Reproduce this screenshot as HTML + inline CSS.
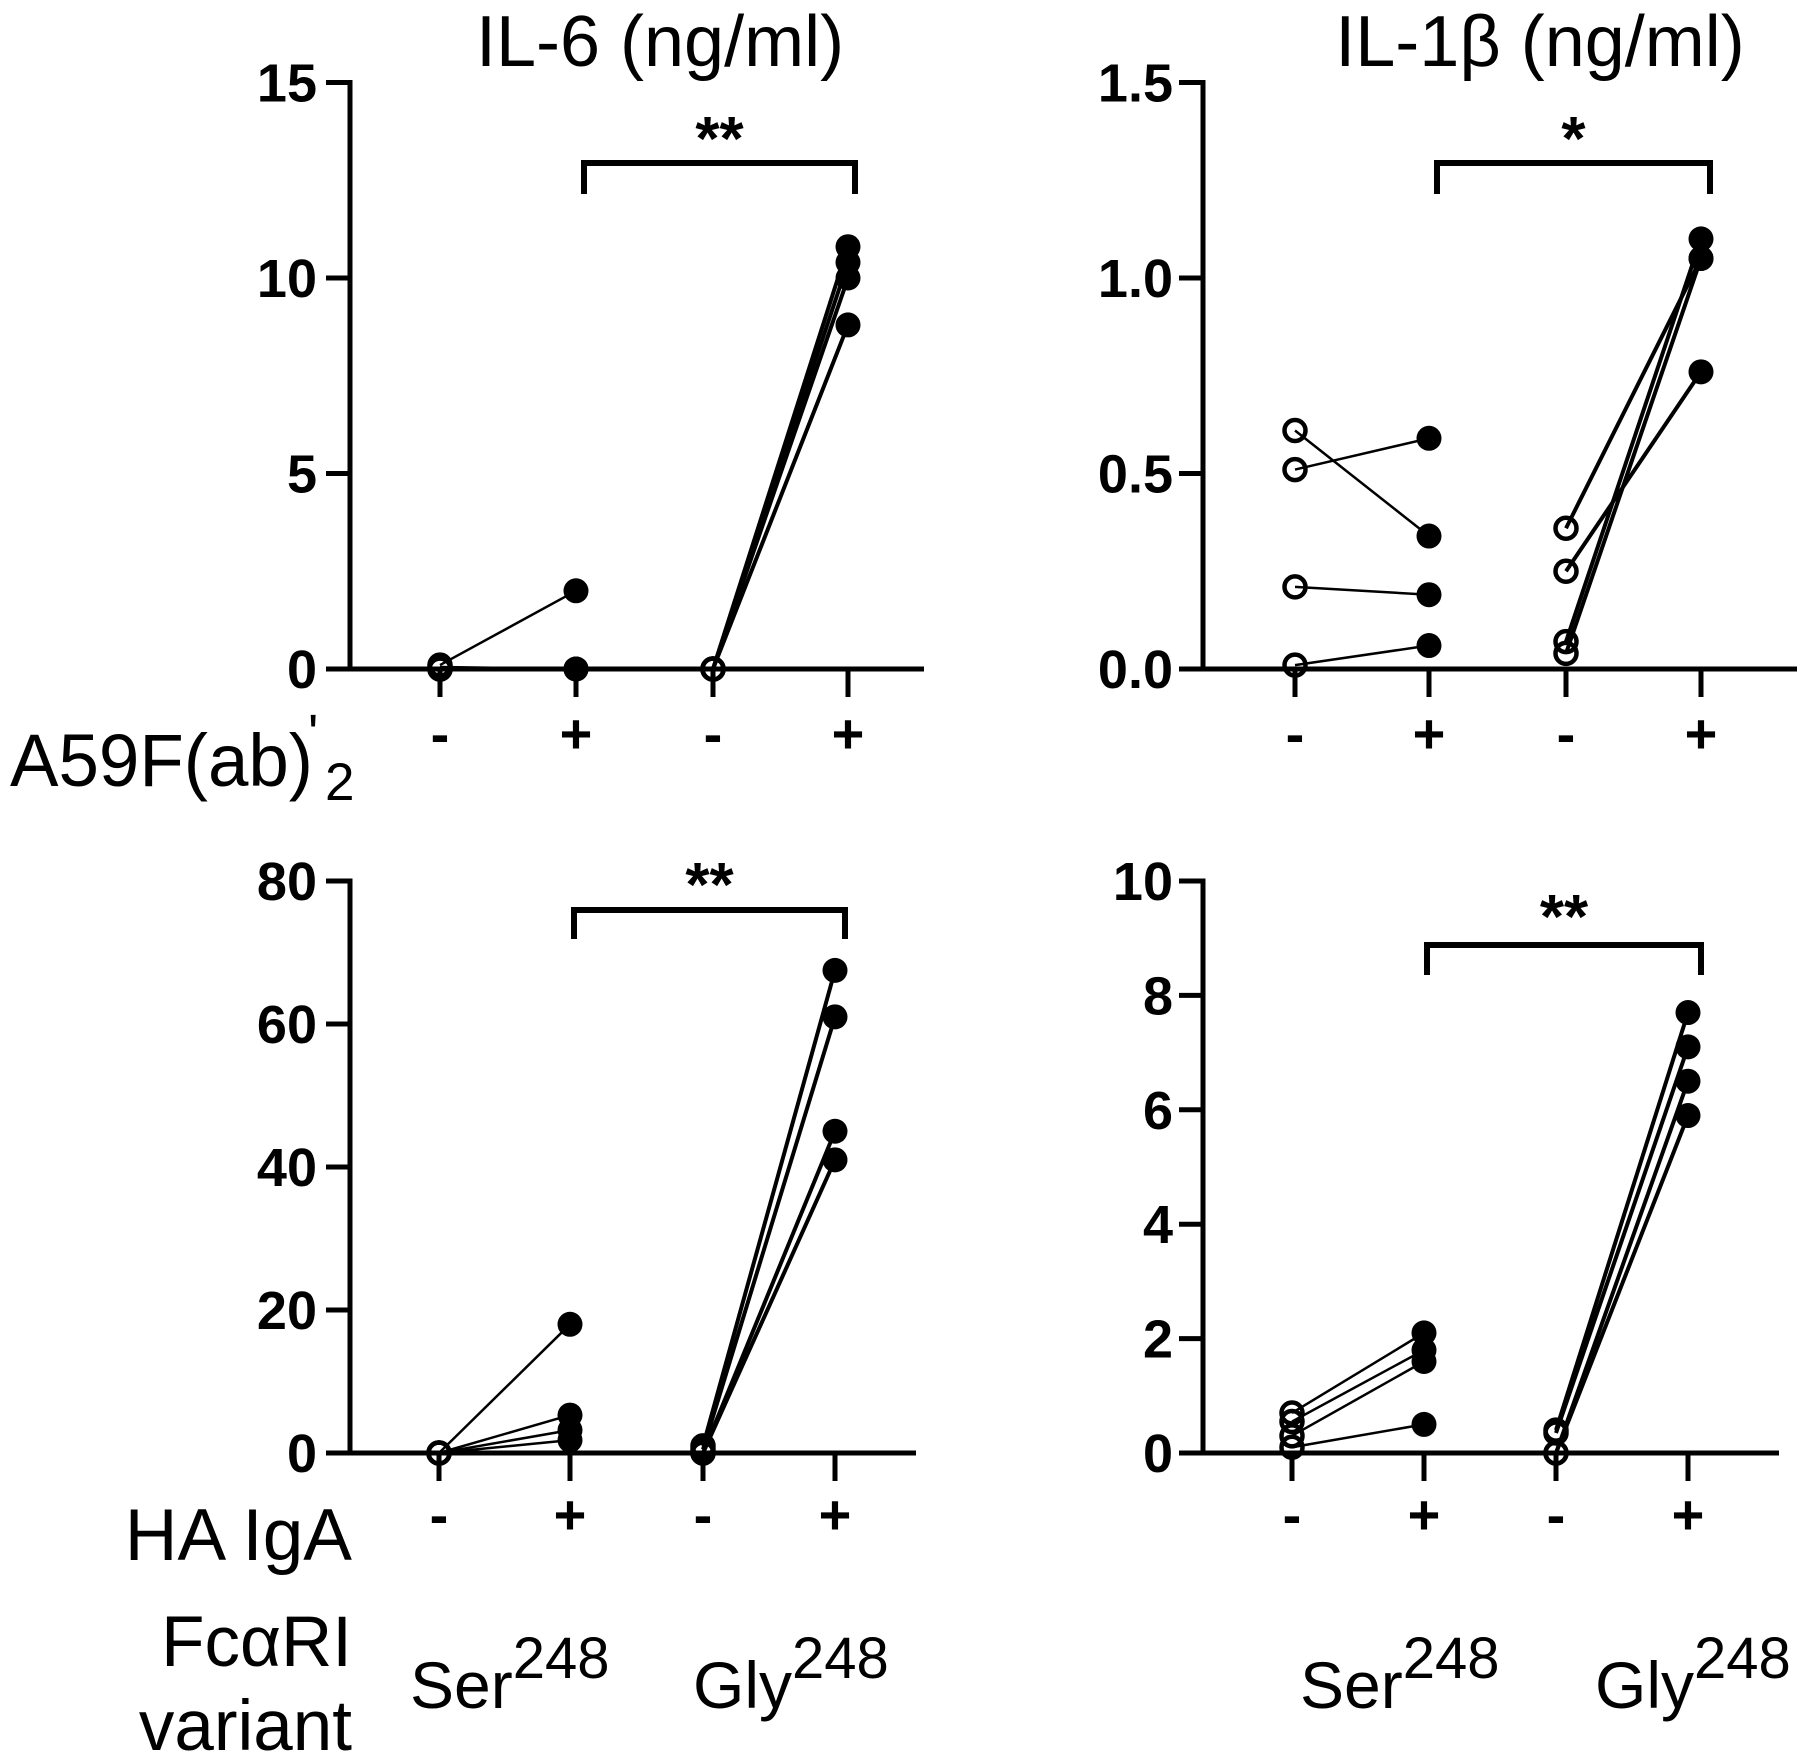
<!DOCTYPE html>
<html><head><meta charset="utf-8"><style>
html,body{margin:0;padding:0;background:#fff;}
svg{display:block;}
text{font-family:"Liberation Sans",Arial,sans-serif;fill:#000;}
</style></head><body>
<svg id="fig" width="1810" height="1762" viewBox="0 0 1810 1762" xmlns="http://www.w3.org/2000/svg">
<text x="660" y="66" font-size="72" text-anchor="middle">IL-6 (ng/ml)</text>
<text x="1540" y="66" font-size="72" text-anchor="middle">IL-1β (ng/ml)</text>
<text x="10" y="786" font-size="74" textLength="303" lengthAdjust="spacingAndGlyphs">A59F(ab)</text>
<text x="308" y="752" font-size="54">'</text>
<text x="325" y="800" font-size="53">2</text>
<text x="352" y="1560" font-size="73" text-anchor="end">HA IgA</text>
<text x="352" y="1666" font-size="71" text-anchor="end">FcαRI</text>
<text x="352" y="1750" font-size="71" text-anchor="end">variant</text>
<g>
<text x="410" y="1708" font-size="66">Ser<tspan font-size="58" dy="-30">248</tspan></text>
<text x="693" y="1708" font-size="66">Gly<tspan font-size="58" dy="-30">248</tspan></text>
</g>
<g>
<text x="1300" y="1708" font-size="66">Ser<tspan font-size="58" dy="-30">248</tspan></text>
<text x="1595" y="1708" font-size="66">Gly<tspan font-size="58" dy="-30">248</tspan></text>
</g>
</svg>
<script>
// ---- data ----
// IL-6 A59F(ab')2 (top-left)
const tlSerNeg = [0.1, 0.05, 0, 0];
const tlSerPos = [2.0, 0, 0, 0];
const tlGlyNeg = [0, 0, 0, 0];
const tlGlyPos = [10.8, 10.4, 10.0, 8.8];
const tlTicks = ["0","5","10","15"];
const tlTickVals = [0,5,10,15];
// IL-1b A59F(ab')2 (top-right)
const trSerNeg = [0.61, 0.51, 0.21, 0.01];
const trSerPos = [0.34, 0.59, 0.19, 0.06];
const trGlyNeg = [0.36, 0.25, 0.07, 0.04];
const trGlyPos = [1.05, 0.76, 1.10, 1.05];
const trTicks = ["0.0","0.5","1.0","1.5"];
const trTickVals = [0,0.5,1.0,1.5];
// IL-6 HA IgA (bottom-left)
const blSerNeg = [0, 0, 0, 0];
const blSerPos = [18, 5.3, 3.2, 1.8];
const blGlyNeg = [1.0, 0.5, 0, 0];
const blGlyPos = [67.5, 61, 45, 41];
const blTicks = ["0","20","40","60","80"];
const blTickVals = [0,20,40,60,80];
// IL-1b HA IgA (bottom-right)
const brSerNeg = [0.7, 0.55, 0.3, 0.1];
const brSerPos = [2.1, 1.8, 1.6, 0.5];
const brGlyNeg = [0.4, 0.35, 0, 0];
const brGlyPos = [7.7, 7.1, 6.5, 5.9];
const brTicks = ["0","2","4","6","8","10"];
const brTickVals = [0,2,4,6,8,10];
const stimLabels = ["-","+","-","+"];
const sigLabels = ["**","*","**","**"];

const NS = "http://www.w3.org/2000/svg";
const svg = document.getElementById("fig");
function mk(tag, attrs, parent){
  const e = document.createElementNS(NS, tag);
  for (const k in attrs) e.setAttribute(k, attrs[k]);
  parent.appendChild(e);
  return e;
}

function panel(cfg){
  const g = mk("g", {}, svg);
  
  
  const yMax = cfg.tickVals[cfg.tickVals.length-1];
  const yScale = v => cfg.y0 + (cfg.yTop - cfg.y0) * v / yMax;
  const xScale = i => cfg.xs[i];
  const ya = mk("line", {x1:cfg.ax, y1:cfg.yTop-2.5, x2:cfg.ax, y2:cfg.y0, stroke:"#000","stroke-width":5}, g);
  
  
  const xa = mk("line", {x1:cfg.ax-24, y1:cfg.y0, x2:cfg.xEnd, y2:cfg.y0, stroke:"#000","stroke-width":5}, g);
  
  
  cfg.tickVals.forEach((v, i) => {
    const y = yScale(v);
    const t = mk("line", {x1:cfg.ax-24, y1:y, x2:cfg.ax, y2:y, stroke:"#000","stroke-width":5}, g);
    
    
    const l = mk("text", {x:cfg.labelRight, y:y+19, "font-size":54, "font-weight":"bold", "text-anchor":"end"}, g);
    l.textContent = cfg.ticks[i];
    
    
  });
  for (let i = 0; i < 4; i++){
    const x = xScale(i);
    const t = mk("line", {x1:x, y1:cfg.y0, x2:x, y2:cfg.y0+28, stroke:"#000","stroke-width":5}, g);
    
    
    const l = mk("text", {x:x, y:cfg.pmY+18, "font-size":56, "font-weight":"bold", "text-anchor":"middle"}, g);
    l.textContent = stimLabels[i];
    
    
  }
  const pairs = [[cfg.serNeg, cfg.serPos, 0, 1, 2.5], [cfg.glyNeg, cfg.glyPos, 2, 3, 4]];
  pairs.forEach(([a, b, ia, ib, w]) => {
    for (let k = 0; k < a.length; k++){
      const ln = mk("line", {x1:xScale(ia), y1:yScale(a[k]), x2:xScale(ib), y2:yScale(b[k]), stroke:"#000","stroke-width":w}, g);
      
      
    }
  });
  [[cfg.serNeg,0,false],[cfg.serPos,1,true],[cfg.glyNeg,2,false],[cfg.glyPos,3,true]].forEach(([arr, i, filled]) => {
    arr.forEach(v => {
      const c = filled
        ? mk("circle", {cx:xScale(i), cy:yScale(v), r:12.5, fill:"#000"}, g)
        : mk("circle", {cx:xScale(i), cy:yScale(v), r:10.5, fill:"none", stroke:"#000", "stroke-width":4.5}, g);
      
      
    });
  });
  const bx1 = cfg.br[0], bx2 = cfg.br[1], by = cfg.br[2], bl = cfg.br[3];
  const p = mk("path", {d:`M${bx1},${bl} V${by} H${bx2} V${bl}`, fill:"none", stroke:"#000","stroke-width":6}, g);
  
  
  const s = mk("text", {x:(bx1+bx2)/2, y:cfg.starY, "font-size":62, "font-weight":"bold", "text-anchor":"middle"}, g);
  s.textContent = cfg.sig;
  
  
}

panel({name:"il6-a59-panel", ax:350, y0:669, yTop:82.5, xEnd:924, xs:[440,576,713,848], labelRight:317,
  ticks:tlTicks, tickVals:tlTickVals, serNeg:tlSerNeg, serPos:tlSerPos, glyNeg:tlGlyNeg, glyPos:tlGlyPos,
  pmY:735, br:[584,855,163,194], starY:160, sig:sigLabels[0]});
panel({name:"il1b-a59-panel", ax:1203, y0:669, yTop:82.5, xEnd:1797, xs:[1295,1429,1566,1701], labelRight:1173,
  ticks:trTicks, tickVals:trTickVals, serNeg:trSerNeg, serPos:trSerPos, glyNeg:trGlyNeg, glyPos:trGlyPos,
  pmY:735, br:[1437,1710,163,194], starY:160, sig:sigLabels[1]});
panel({name:"il6-iga-panel", ax:350, y0:1453, yTop:881, xEnd:916, xs:[439,570,703,835], labelRight:317,
  ticks:blTicks, tickVals:blTickVals, serNeg:blSerNeg, serPos:blSerPos, glyNeg:blGlyNeg, glyPos:blGlyPos,
  pmY:1516, br:[574,845,910,939], starY:906, sig:sigLabels[2]});
panel({name:"il1b-iga-panel", ax:1203, y0:1453, yTop:881, xEnd:1779, xs:[1292,1424,1556,1688], labelRight:1173,
  ticks:brTicks, tickVals:brTickVals, serNeg:brSerNeg, serPos:brSerPos, glyNeg:brGlyNeg, glyPos:brGlyPos,
  pmY:1516, br:[1427,1701,945,975], starY:938, sig:sigLabels[3]});
</script>
</body></html>
